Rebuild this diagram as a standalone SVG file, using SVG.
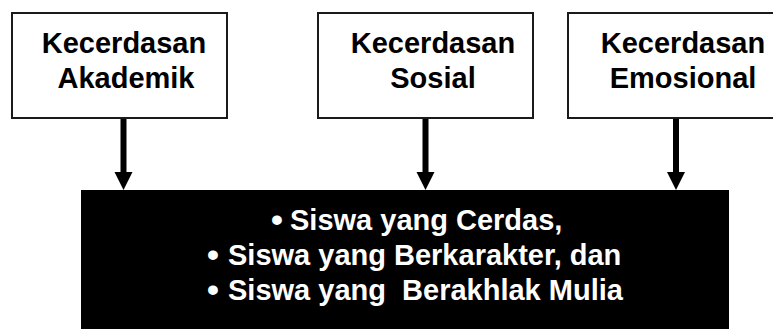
<svg xmlns="http://www.w3.org/2000/svg" width="773" height="329" viewBox="0 0 773 329">
  <style>
    .box { fill: #ffffff; stroke: #1a1a1a; stroke-width: 2; }
    .lbl { font-family: "Liberation Sans", Arial, sans-serif; font-weight: bold; font-size: 29px; fill: #000000; text-anchor: middle; }
    .res { font-family: "Liberation Sans", Arial, sans-serif; font-weight: bold; font-size: 29px; fill: #ffffff; white-space: pre; }
    .dot { font-family: "Liberation Sans", Arial, sans-serif; font-weight: bold; font-size: 34px; fill: #ffffff; }
    .shaft { stroke: #000000; stroke-width: 6; fill: none; }
    .head { fill: #000000; }
  </style>

  <rect width="773" height="329" fill="#ffffff"/>

  <!-- source boxes -->
  <g id="akademik">
    <rect class="box" x="12" y="13" width="215" height="105"/>
    <text class="lbl" x="124" y="53">Kecerdasan</text>
    <text class="lbl" x="126" y="88">Akademik</text>
  </g>
  <g id="sosial">
    <rect class="box" x="318" y="13" width="215" height="105"/>
    <text class="lbl" x="433" y="53">Kecerdasan</text>
    <text class="lbl" x="433" y="88">Sosial</text>
  </g>
  <g id="emosional">
    <rect class="box" x="568" y="13" width="215" height="105"/>
    <text class="lbl" x="683" y="53">Kecerdasan</text>
    <text class="lbl" x="683" y="88">Emosional</text>
  </g>

  <!-- result box with bulleted list -->
  <g id="hasil">
    <rect x="81" y="190" width="648" height="145" fill="#000000"/>
    <text class="dot" x="271" y="231">•</text>
    <text class="res" x="290" y="230">Siswa yang Cerdas,</text>
    <text class="dot" x="207" y="266">•</text>
    <text class="res" x="228" y="265">Siswa yang Berkarakter, dan</text>
    <text class="dot" x="207" y="301">•</text>
    <text class="res" x="228" y="300" xml:space="preserve">Siswa yang  Berakhlak Mulia</text>
  </g>

  <!-- connectors -->
  <g id="connectors">
    <line class="shaft" x1="123.5" y1="119" x2="123.5" y2="174"/>
    <polygon class="head" points="114.5,172 132.5,172 123.5,190"/>
    <line class="shaft" x1="425.5" y1="119" x2="425.5" y2="174"/>
    <polygon class="head" points="416.5,172 434.5,172 425.5,190"/>
    <line class="shaft" x1="676" y1="119" x2="676" y2="174"/>
    <polygon class="head" points="667,172 685,172 676,190"/>
  </g>
</svg>
